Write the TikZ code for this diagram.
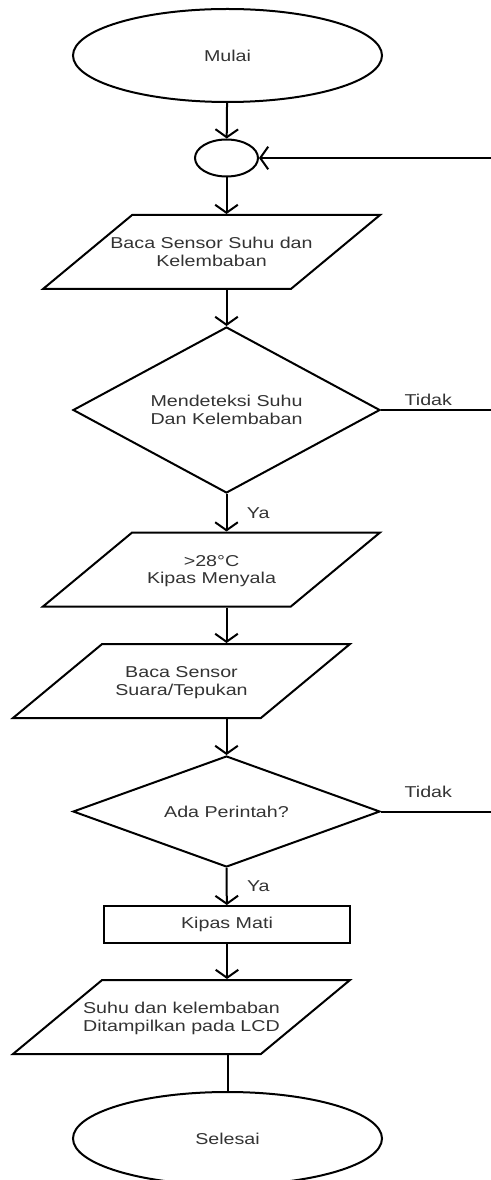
\documentclass[tikz,border=0pt]{standalone}
\usepackage{fontspec}
\newfontfamily\flowfont[FakeStretch=1.25]{Liberation Sans}
\usetikzlibrary{shapes.geometric,arrows.meta}

\begin{document}
\begin{tikzpicture}[x=0.75pt, y=-0.75pt, line width=1.5pt,
	every node/.style={font=\flowfont\fontsize{11.8}{13}\selectfont, text=black!80, align=center},
	terminal/.style={draw, ellipse, minimum width=231.75pt, minimum height=69.75pt, inner sep=0pt},
	joint/.style={draw, ellipse, minimum width=47.25pt, minimum height=27.75pt, inner sep=0pt},
	io/.style={draw, trapezium, trapezium left angle=39.7, trapezium right angle=140.3,
		trapezium stretches body, minimum width=252.75pt, inner ysep=0pt, inner xsep=-35pt,
		text height=38.45pt, text depth=17.05pt},
	decision/.style={draw, diamond, aspect=1.85, minimum width=230.25pt, inner sep=0pt},
	process/.style={draw, rectangle, minimum width=184.5pt, minimum height=27.75pt, inner sep=0pt},
	flow/.style={-{Straight Barb[length=6pt,width=17pt]}},
	answer/.style={inner sep=2.5pt}]
	\useasboundingbox (0,0) rectangle (491,1180);

	\node[terminal] (start) at (227.5,55.5) {Mulai};
	\node[joint] (joint) at (226.5,158) {};
	\node[io] (readTH) at (211.5,252) {Baca Sensor Suhu dan\\Kelembaban};
	\node[decision, minimum height=124.5pt] (detect) at (226.5,410) {Mendeteksi Suhu\\Dan Kelembaban};
	\node[io] (fanOn) at (211.5,569.5) {>28°C\\Kipas Menyala};
	\node[io] (readClap) at (181.5,681) {Baca Sensor\\Suara/Tepukan};
	\node[decision, minimum height=83.25pt] (command) at (226.5,811.5) {Ada Perintah?};
	\node[process] (fanOff) at (227,924.5) {Kipas Mati};
	\node[io] (show) at (181.5,1017) {Suhu dan kelembaban\\Ditampilkan pada LCD};
	\node[terminal] (stop) at (227.5,1138.5) {Selesai};

	% loop back from the right edge
	\coordinate (back) at (491,158);

	\draw[flow] (start) -- (joint);
	\draw[flow] (back) -- (joint);
	\draw[flow] (joint) -- (joint |- readTH.north);
	\draw[flow] (detect.north |- readTH.south) -- (detect);
	\draw (detect.east) -- node[answer, above, pos=0.43] {Tidak} (detect.east -| back);
	\draw[flow] (detect.south) -- node[answer, right=12pt] {Ya} (detect.south |- fanOn.north);
	\draw[flow] (detect.south |- fanOn.south) -- (detect.south |- readClap.north);
	\draw[flow] (command.north |- readClap.south) -- (command);
	\draw (command.east) -- node[answer, above=7.5pt, pos=0.43] {Tidak} (command.east -| back);
	\draw[flow] (command.south) -- node[answer, right=12pt] {Ya} (fanOff);
	\draw[flow] (fanOff) -- (fanOff.south |- show.north);
	\draw (stop.north |- show.south) -- (stop);
\end{tikzpicture}
\end{document}
